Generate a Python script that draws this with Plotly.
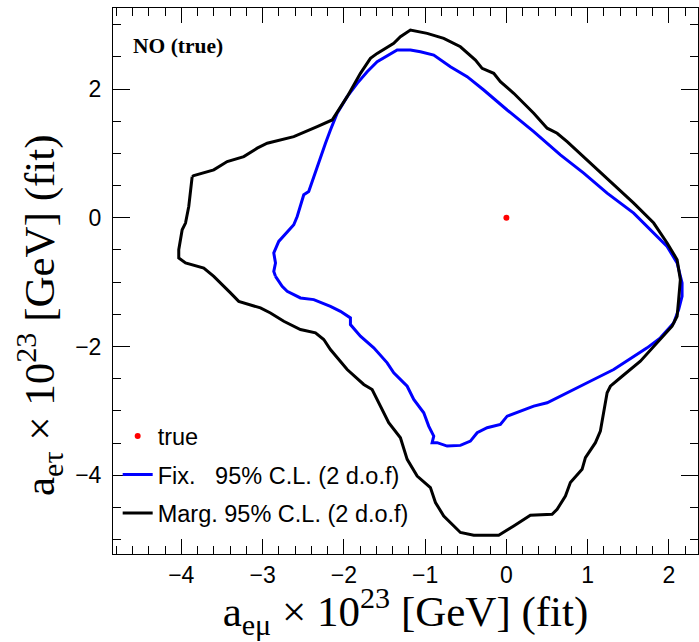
import plotly.graph_objects as go

# Marginalised 95% C.L. contour (a_emu, a_etau) x 1e23 GeV
marg_x = [-3.866, -3.846, -3.600, -3.435, -3.231, -3.066, -2.943, -2.616, -2.328, -2.144,
          -1.959, -1.796, -1.673, -1.590, -1.386, -1.304, -1.181, -0.975, -0.771, -0.566,
          -0.381, -0.299, -0.156, -0.074, 0.090, 0.336, 0.501, 0.624, 0.747, 0.993,
          1.362, 1.566, 1.812, 1.977, 2.100, 2.140, 2.119, 2.100, 2.038, 1.854,
          1.648, 1.402, 1.279, 1.239, 1.197, 1.156, 1.095, 0.972, 0.931, 0.787,
          0.726, 0.624, 0.562, 0.295, 0.090, -0.095, -0.402, -0.566, -0.771, -0.873,
          -0.935, -1.098, -1.221, -1.304, -1.448, -1.571, -1.652, -1.755, -1.959, -2.165,
          -2.247, -2.349, -2.534, -2.739, -2.903, -3.026, -3.293, -3.395, -3.456, -3.600,
          -3.723, -3.948, -4.031, -4.031, -3.989, -3.948, -3.908, -3.866]
marg_y = [0.640, 0.656, 0.744, 0.873, 0.950, 1.081, 1.158, 1.260, 1.416, 1.519,
          1.881, 2.243, 2.476, 2.553, 2.709, 2.811, 2.915, 2.864, 2.786, 2.656,
          2.450, 2.321, 2.243, 2.113, 1.933, 1.623, 1.391, 1.313, 1.183, 0.899,
          0.460, 0.228, -0.082, -0.392, -0.651, -0.961, -1.271, -1.530, -1.685, -1.943,
          -2.228, -2.485, -2.616, -2.718, -3.003, -3.313, -3.493, -3.726, -3.907, -4.113,
          -4.321, -4.527, -4.605, -4.620, -4.786, -4.930, -4.930, -4.888, -4.631, -4.423,
          -4.191, -4.011, -3.752, -3.416, -3.183, -2.873, -2.667, -2.589, -2.357, -2.047,
          -1.891, -1.788, -1.736, -1.608, -1.478, -1.400, -1.298, -1.167, -1.090, -0.910,
          -0.780, -0.702, -0.625, -0.496, -0.186, -0.082, 0.175, 0.640]

# Fixed 95% C.L. contour
fix_x = [-2.841, -2.862, -2.841, -2.862, -2.801, -2.697, -2.616, -2.574, -2.534, -2.493,
         -2.432, -2.370, -2.288, -2.226, -2.165, -2.082, -1.959, -1.836, -1.713, -1.590,
         -1.344, -1.181, -1.058, -0.894, -0.689, -0.483, -0.279, 0.009, 0.336, 0.664,
         0.951, 1.239, 1.566, 1.812, 1.977, 2.100, 2.161, 2.161, 2.119, 2.058,
         1.894, 1.731, 1.566, 1.320, 1.074, 0.828, 0.664, 0.501, 0.336, 0.172,
         0.009, -0.074, -0.237, -0.360, -0.443, -0.566, -0.729, -0.852, -0.914, -0.894,
         -0.956, -1.017, -1.140, -1.221, -1.304, -1.386, -1.467, -1.632, -1.796, -1.919,
         -1.919, -2.042, -2.165, -2.370, -2.534, -2.697, -2.759, -2.841]
fix_y = [-0.910, -0.833, -0.702, -0.547, -0.367, -0.212, -0.109, 0.020, 0.175, 0.357,
         0.408, 0.640, 0.950, 1.158, 1.364, 1.623, 1.881, 2.088, 2.268, 2.423,
         2.605, 2.605, 2.578, 2.527, 2.346, 2.191, 1.984, 1.674, 1.338, 0.977,
         0.693, 0.383, 0.073, -0.237, -0.445, -0.702, -1.012, -1.220, -1.426, -1.633,
         -1.865, -2.020, -2.150, -2.357, -2.512, -2.667, -2.771, -2.873, -2.926, -3.003,
         -3.081, -3.209, -3.260, -3.338, -3.468, -3.535, -3.546, -3.493, -3.493, -3.391,
         -3.236, -3.028, -2.822, -2.616, -2.512, -2.408, -2.253, -2.020, -1.840, -1.659,
         -1.555, -1.453, -1.375, -1.271, -1.245, -1.143, -1.065, -0.910]

true_x = [0.0]
true_y = [0.0]

x_range = [-4.84, 2.357]
y_range = [-5.222, 3.258]

x_title = "a<sub>eμ</sub> × 10<sup>23</sup> [GeV] (fit)"
y_title = "a<sub>eτ</sub> × 10<sup>23</sup> [GeV] (fit)"

fig = go.Figure()
fig.add_trace(go.Scatter(x=true_x, y=true_y, mode="markers", name="true",
                         legendgroup="a",
                         marker=dict(color="#ff0000", size=6)))
fig.add_trace(go.Scatter(x=fix_x, y=fix_y, mode="lines",
                         name="Fix.\u00a0\u00a0\u00a095% C.L. (2 d.o.f)",
                         legendgroup="b",
                         line=dict(color="#0000ff", width=3)))
fig.add_trace(go.Scatter(x=marg_x, y=marg_y, mode="lines",
                         name="Marg. 95% C.L. (2 d.o.f)",
                         legendgroup="c",
                         line=dict(color="#000000", width=3)))

serif = "Liberation Serif, Times New Roman, serif"
sans = "Liberation Sans, Arial, sans-serif"

axis_common = dict(
    showgrid=False, zeroline=False, showline=True, linecolor="black", linewidth=1,
    mirror="allticks", ticks="inside", tickcolor="black", tickwidth=1,
    tickfont=dict(family=sans, size=23, color="black"),
)

fig.update_xaxes(
    range=x_range, dtick=1, tick0=0, ticklen=15,
    minor=dict(dtick=0.2, tick0=0, ticklen=8, ticks="inside", tickcolor="black", tickwidth=1),
    title_text=x_title, title_standoff=4,
    title_font=dict(family=serif, size=43, color="black"),
    **axis_common)
fig.update_yaxes(
    range=y_range, dtick=2, tick0=0, ticklen=17,
    minor=dict(dtick=0.5, tick0=0, ticklen=8, ticks="inside", tickcolor="black", tickwidth=1),
    ticklabelstandoff=6,
    **axis_common)

fig.add_annotation(text=y_title, xref="paper", yref="paper",
                   x=(39 - 113) / 585, y=0.4377, xanchor="center", yanchor="middle",
                   textangle=-90, showarrow=False,
                   font=dict(family=serif, size=43, color="black"))

fig.add_annotation(text="<b>NO (true)</b>", xref="paper", yref="paper",
                   x=0.030, y=0.93, xanchor="left", yanchor="middle", showarrow=False,
                   font=dict(family=serif, size=21.5, color="black"))

fig.update_layout(
    width=699, height=642,
    margin=dict(l=113, r=1, t=8, b=88),
    paper_bgcolor="white", plot_bgcolor="white",
    showlegend=True,
    legend=dict(x=0.008, y=0.256, xanchor="left", yanchor="top",
                bgcolor="rgba(0,0,0,0)", borderwidth=0,
                traceorder="grouped", tracegroupgap=5,
                font=dict(family=sans, size=23.5, color="black")),
)

fig.write_html("out.html")
